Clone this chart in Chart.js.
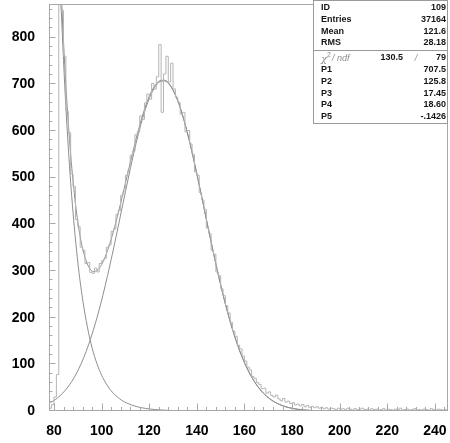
<!DOCTYPE html>
<html>
<head>
<meta charset="utf-8">
<script src="https://cdn.jsdelivr.net/npm/chart.js@4/dist/chart.umd.min.js"></script>
<style>
  html, body { margin: 0; padding: 0; background: #fff; }
  #wrap { width: 450px; height: 443px; }
</style>
</head>
<body>
<div id="wrap"><canvas id="chart" width="450" height="443"></canvas></div>
<script>
// histogram 109: counts per 1-unit bin, first bin starts at 78
const binStart = 78;
const binWidth = 1;
const counts = [
  6, 14, 30, 78, 1010, 858, 760, 642, 596, 508,
  481, 410, 395, 351, 344, 316, 318, 297, 295, 306,
  298, 316, 322, 327, 351, 356, 385, 390, 421, 430,
  462, 470, 505, 516, 548, 556, 592, 598, 632, 625,
  660, 679, 668, 702, 690, 716, 785, 640, 722, 760,
  705, 745, 690, 672, 661, 636, 640, 598, 601, 572,
  550, 512, 505, 468, 452, 432, 392, 380, 344, 336,
  298, 290, 262, 247, 226, 210, 190, 171, 160, 141,
  133, 118, 107, 94, 88, 74, 70, 61, 57, 48,
  49, 38, 41, 33, 30, 34, 26, 22, 27, 19,
  21, 16, 18, 13, 15, 11, 14, 9, 12, 8,
  10, 7, 9, 6, 8, 5, 7, 4, 6, 5,
  3, 6, 4, 5, 3, 6, 4, 2, 5, 3,
  4, 6, 3, 4, 2, 5, 3, 4, 2, 3,
  5, 2, 4, 3, 2, 4, 3, 6, 2, 3,
  4, 2, 3, 5, 2, 3, 2, 4, 3, 2,
  5, 3, 2, 4, 3, 2, 3
];

// fit curves, sampled every 2 units from 78.5
const fitStart = 78.5;
const fitStep = 2;
const gausFit = [
  18.0, 24.3, 32.5, 43.0, 56.0, 72.0, 91.4, 114.5, 141.6, 172.8,
  208.0, 247.3, 290.2, 335.9, 383.7, 433.0, 481.8, 529.2, 573.8, 614.1,
  648.1, 675.7, 694.8, 705.5, 707.0, 699.0, 682.0, 657.3, 624.7, 586.5,
  542.7, 496.0, 447.9, 398.3, 350.2, 303.5, 259.7, 219.3, 183.0, 150.5,
  122.2, 98.0, 77.5, 60.5, 46.6, 35.4, 26.6, 19.7, 14.4, 10.4,
  7.4, 5.2, 3.6, 2.5, 1.7, 1.1, 0.7, 0.45, 0.3, 0.2,
  0.1, 0.07, 0.04, 0.02, 0.01, 0.01, 0
];
const expoFit = [
  1646, 1237, 930, 699, 526, 396, 297, 224, 168, 126,
  95, 71.5, 53.7, 40.4, 30.4, 22.8, 17.2, 12.9, 9.7, 7.3,
  5.5, 4.1, 3.1, 2.3, 1.7, 1.3, 1.0, 0.75, 0.56, 0.42,
  0.32, 0.24
];
const totalFit = [
  1664, 1261, 962.5, 742, 582, 468, 388.4, 338.5, 309.6, 298.8,
  303, 318.8, 343.9, 376.3, 414.1, 455.8, 499, 542.1, 583.5, 621.4,
  653.6, 679.8, 697.9, 707.8, 708.7, 700.3, 683, 658, 625.3, 586.9,
  543, 496.2, 447.9, 398.3, 350.2, 303.5, 259.7, 219.3, 183.0, 150.5,
  122.2, 98.0, 77.5, 60.5, 46.6, 35.4, 26.6, 19.7, 14.4, 10.4,
  7.4, 5.2, 3.6, 2.5, 1.7, 1.1, 0.7, 0.45, 0.3, 0.2,
  0.1, 0.07, 0.04, 0.02, 0.01, 0.01, 0
];

const xTicks = [80, 100, 120, 140, 160, 180, 200, 220, 240];
const yTicks = [0, 100, 200, 300, 400, 500, 600, 700, 800];

// stats box
const statLabels = ["ID", "Entries", "Mean", "RMS"];
const statValues = ["109", "37164", "121.6", "28.18"];
const chi2 = "130.5";
const ndf = "79";
const parLabels = ["P1", "P2", "P3", "P4", "P5"];
const parValues = ["707.5", "125.8", "17.45", "18.60", "-.1426"];

const labelFont = { family: '"Liberation Sans", Arial, Helvetica, sans-serif', size: 14, weight: "bold" };

function histPoints() {
  let pts = counts.map((c, i) => ({ x: binStart + i * binWidth, y: c }));
  // close the last bin
  pts.push({ x: binStart + counts.length * binWidth, y: counts[counts.length - 1] });
  return pts;
}

function curvePoints(vals) {
  return vals.map((v, i) => ({ x: fitStart + i * fitStep, y: v }));
}

// FRAME, INNER TICKS, STATS BOX
const rootFrame = {
  id: "rootFrame",
  afterDatasetsDraw(chart) {
    const { ctx, chartArea: a, scales } = chart;
    const x = scales.x, y = scales.y;
    const L = Math.round(a.left) + 0.5;
    const B = Math.round(a.bottom) - 0.5;
    ctx.save();
    ctx.strokeStyle = "#a8a8a8";
    ctx.lineWidth = 1;
    ctx.strokeRect(L, Math.round(a.top) + 0.5, Math.round(a.right) - L - 0.5, B - Math.round(a.top) - 0.5);

    ctx.beginPath();
    for (let v = 0; v <= y.max; v += 20) {
      const py = Math.round(y.getPixelForValue(v)) - 0.5;
      const len = v % 100 === 0 ? 6 : 3;
      ctx.moveTo(L, py);
      ctx.lineTo(L + len, py);
    }
    for (let v = 80; v <= x.max; v += 4) {
      const px = Math.round(x.getPixelForValue(v)) + 0.5;
      const len = (v - 80) % 20 === 0 ? 7 : 3.5;
      ctx.moveTo(px, B);
      ctx.lineTo(px, B - len);
    }
    ctx.stroke();
    ctx.restore();
  },
  afterDraw(chart) {
    const ctx = chart.ctx;
    const bl = 313, br = 448, bt = 0, bb = 124;
    ctx.save();
    ctx.fillStyle = "#fff";
    ctx.fillRect(bl, bt, br - bl, bb - bt);
    ctx.strokeStyle = "#9a9a9a";
    ctx.lineWidth = 1;
    ctx.strokeRect(bl + 0.5, bt + 0.5, br - bl - 1, bb - bt - 1);

    ctx.font = 'bold 9px "Liberation Sans", Arial, sans-serif';
    ctx.textBaseline = "middle";
    ctx.fillStyle = "#151515";
    const statRows = [8, 20, 31.5, 43];
    statLabels.forEach((s, i) => {
      ctx.textAlign = "left";
      ctx.fillText(s, bl + 8, statRows[i]);
      ctx.textAlign = "right";
      ctx.fillText(statValues[i], br - 2, statRows[i]);
    });

    // separator between stats and fit results
    ctx.beginPath();
    ctx.moveTo(bl, 50.5);
    ctx.lineTo(br, 50.5);
    ctx.stroke();

    // chi2 / ndf row
    const cy = 58;
    ctx.fillStyle = "#8c8c8c";
    ctx.textAlign = "left";
    ctx.font = 'italic 10px "DejaVu Serif", serif';
    ctx.fillText("\u03c7", bl + 8, cy + 1);
    ctx.font = '7px "Liberation Sans", Arial, sans-serif';
    ctx.fillText("2", bl + 14, cy - 3);
    ctx.font = 'italic 9px "Liberation Sans", Arial, sans-serif';
    ctx.fillText("/ ndf", bl + 19, cy);
    ctx.fillStyle = "#151515";
    ctx.font = 'bold 9px "Liberation Sans", Arial, sans-serif';
    ctx.textAlign = "right";
    ctx.fillText(chi2, 403, cy);
    ctx.fillStyle = "#8c8c8c";
    ctx.textAlign = "center";
    ctx.font = 'italic 9px "Liberation Sans", Arial, sans-serif';
    ctx.fillText("/", 416, cy);
    ctx.fillStyle = "#151515";
    ctx.font = 'bold 9px "Liberation Sans", Arial, sans-serif';
    ctx.textAlign = "right";
    ctx.fillText(ndf, br - 2, cy);

    const parRows = [70, 82, 93.5, 105, 117];
    parLabels.forEach((s, i) => {
      ctx.textAlign = "left";
      ctx.fillText(s, bl + 8, parRows[i]);
      ctx.textAlign = "right";
      ctx.fillText(parValues[i], br - 2, parRows[i]);
    });
    ctx.restore();
  }
};

const fitLine = {
  borderColor: "#8e8e8e",
  borderWidth: 1,
  pointRadius: 0,
  cubicInterpolationMode: "monotone",
  fill: false
};

new Chart(document.getElementById("chart"), {
  type: "line",
  data: {
    datasets: [
      {
        label: "h109",
        data: histPoints(),
        stepped: true,
        borderColor: "#b4b4b4",
        borderWidth: 1,
        pointRadius: 0,
        fill: false
      },
      { label: "gaus", data: curvePoints(gausFit), ...fitLine },
      { label: "expo", data: curvePoints(expoFit), ...fitLine },
      { label: "total", data: curvePoints(totalFit), ...fitLine }
    ]
  },
  options: {
    responsive: false,
    animation: false,
    events: [],
    layout: { padding: { left: 0, right: 2, top: 4, bottom: 0 } },
    plugins: {
      legend: { display: false },
      tooltip: { enabled: false }
    },
    scales: {
      x: {
        type: "linear",
        min: 77.9,
        max: 245.5,
        grid: { display: false, drawTicks: false },
        border: { display: false },
        ticks: { font: labelFont, color: "#000", padding: 12, maxRotation: 0, autoSkip: false },
        afterBuildTicks: s => { s.ticks = xTicks.map(v => ({ value: v })); },
        afterFit: s => { s.height = 32; s.paddingLeft = 0; s.paddingRight = 0; }
      },
      y: {
        type: "linear",
        min: 0,
        max: 872,
        grid: { display: false, drawTicks: false },
        border: { display: false },
        ticks: { font: labelFont, color: "#000", padding: 14 },
        afterBuildTicks: s => { s.ticks = yTicks.map(v => ({ value: v })); },
        afterFit: s => { s.width = 49; s.paddingTop = 0; s.paddingBottom = 0; }
      }
    }
  },
  plugins: [rootFrame]
});
</script>
</body>
</html>
